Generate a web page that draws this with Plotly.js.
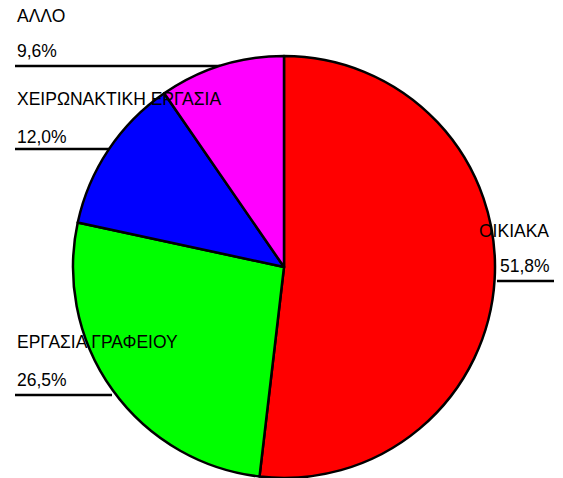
<!DOCTYPE html>
<html><head><meta charset="utf-8">
<script src="https://cdn.plot.ly/plotly-3.0.1.min.js"></script>
<style>html,body{margin:0;padding:0;background:#fff}#c{width:563px;height:478px}</style>
</head><body><div id="c"></div>
<script>
const categories = ["ΟΙΚΙΑΚΑ", "ΕΡΓΑΣΙΑ ΓΡΑΦΕΙΟΥ", "ΧΕΙΡΩΝΑΚΤΙΚΗ ΕΡΓΑΣΙΑ", "ΑΛΛΟ"];
const values = [51.8, 26.5, 12.0, 9.6];
const valueLabels = ["51,8%", "26,5%", "12,0%", "9,6%"];
const colors = ["#ff0000", "#00ff00", "#0000ff", "#ff00ff"];

const W = 563, H = 478;
const px = x => x / W;
const py = y => 1 - y / H;

// label layout (pixel positions): [nameX, nameY, valX, valY, lineY, lineX0, lineX1]
const labelPos = [
  [477, 231, 498, 266, 281, 497, 554],
  [15, 342, 15, 380, 395, 15, 112],
  [15, 99, 15, 137, 149, 15, 110],
  [15, 16, 15, 51, 66, 15, 220]
];

const font = {family: "Liberation Sans, Arial, sans-serif", size: 17.5, color: "#000"};
const annotations = [];
const shapes = [];
categories.forEach((c, i) => {
  const p = labelPos[i];
  annotations.push({text: c, x: px(p[0]), y: py(p[1]), xref: "paper", yref: "paper",
    xanchor: "left", yanchor: "middle", showarrow: false, font});
  annotations.push({text: valueLabels[i], x: px(p[2]), y: py(p[3]), xref: "paper", yref: "paper",
    xanchor: "left", yanchor: "middle", showarrow: false, font});
  shapes.push({type: "line", xref: "paper", yref: "paper", x0: px(p[5]), x1: px(p[6]),
    y0: py(p[4]), y1: py(p[4]), line: {color: "#000", width: 2.5}, layer: "below"});
});

const R = 211, cx = 284, cy = 267;
Plotly.newPlot("c", [{
  type: "pie",
  labels: categories,
  values: values,
  sort: false,
  direction: "clockwise",
  rotation: 0,
  textinfo: "none",
  hoverinfo: "label+percent",
  marker: {colors: colors, line: {color: "#000", width: 2.5}},
  domain: {x: [px(cx - R), px(cx + R)], y: [Math.max(0, py(cy + R)), py(cy - R)]},
  showlegend: false
}], {
  width: W, height: H,
  margin: {l: 0, r: 0, t: 0, b: 0},
  paper_bgcolor: "#fff",
  showlegend: false,
  annotations, shapes
}, {displayModeBar: false, staticPlot: true});
</script></body></html>
